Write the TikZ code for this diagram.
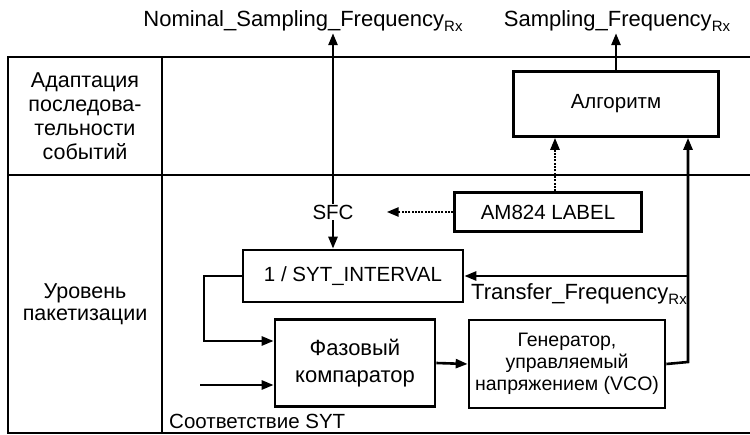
\documentclass[tikz,border=0pt]{standalone}
\usepackage{fontspec}
\setmainfont{Liberation Sans}
\usetikzlibrary{arrows.meta}
\newcommand{\rx}{\raisebox{-5pt}{\fontsize{15}{15}\selectfont Rx}}

\begin{document}
\begin{tikzpicture}[x=1pt,y=-1pt,
  box/.style={draw,line width=2.7pt,inner sep=0pt,align=center},
  lbl/.style={inner sep=1pt,align=center},
  arr/.style={line width=2.6pt,-{Triangle[length=12pt,width=9pt]}},
  dots/.style={dash pattern=on 2pt off 1.3pt},
  font=\fontsize{20.5}{23}\selectfont]

  \useasboundingbox (0,0) rectangle (750,435);

  % table
  \draw[line width=2.8pt] (750,57) -- (8,57) -- (8,433) -- (750,433);
  \draw[line width=2.8pt] (8,175) -- (750,175);
  \draw[line width=2.8pt] (162,57) -- (162,433);

  % layers
  \node[lbl,font=\fontsize{21.5}{24}\selectfont] (adapt) at (85,116) {Адаптация\\последова-\\тельности\\событий};
  \node[lbl,font=\fontsize{21.5}{22.5}\selectfont] (packet) at (85,304) {Уровень\\пакетизации};

  % outputs
  \node[lbl,anchor=base,font=\fontsize{22}{24}\selectfont] (nom) at (303,27) {Nominal\_Sampling\_Frequency\rx};
  \node[lbl,anchor=base,font=\fontsize{22}{24}\selectfont] (samp) at (617,27) {Sampling\_Frequency\rx};

  % blocks
  \node[box,minimum width=205pt,minimum height=65pt] (alg) at (616,104) {Алгоритм};
  \node[box,minimum width=187pt,minimum height=39pt] (am) at (548,212) {AM824 LABEL};
  \node[lbl] (sfc) at (333,212) {SFC};
  \node[box,minimum width=220pt,minimum height=52pt] (syt) at (353,276) {1 / SYT\_INTERVAL};
  \node[box,minimum width=160pt,minimum height=87pt,font=\fontsize{22}{27}\selectfont] (cmp) at (355,363) {Фазовый\\компаратор};
  \node[box,minimum width=196pt,minimum height=88pt,font=\fontsize{19.5}{21.7}\selectfont] (vco) at (567,364) {Генератор,\\управляемый\\напряжением (VCO)};

  % texts
  \node[lbl,anchor=base west,font=\fontsize{22}{24}\selectfont] (tf) at (470,300) {Transfer\_Frequency\rx};
  \node[lbl,anchor=base west] (match) at (168,429) {Соответствие SYT};

  % corners
  \coordinate (fb) at (688,362);
  \coordinate (tap) at (688,276);
  \coordinate (loop) at (204,341);
  \coordinate (sytin) at (200,385);

  % up
  \draw[arr] (sfc) -- (sfc |- nom.south);
  \draw[arr] (alg.north) -- (alg.north |- samp.south);
  \draw[arr,dots] ([xshift=7pt]am.north) -- ([xshift=7pt]am.north |- alg.south);
  \draw[arr] (vco.east) -- (fb) -- (fb |- alg.south);

  % left
  \draw[arr,dots,shorten >=32pt] (am.west) -- (sfc);
  \draw[arr] (tap) -- (syt.east);

  % down
  \draw[arr] (sfc) -- (sfc |- syt.north);

  % loop
  \draw[arr] (syt.west) -| (loop) -- (loop -| cmp.west);
  \draw[arr] (sytin) -- (sytin -| cmp.west);
  \draw[arr] (cmp.east) -- (vco.west);
\end{tikzpicture}
\end{document}
